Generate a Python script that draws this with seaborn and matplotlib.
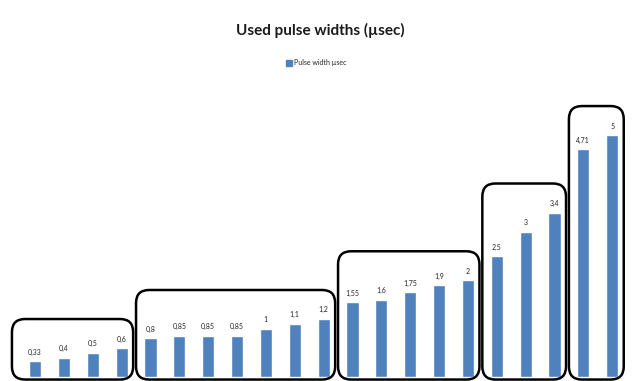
import matplotlib
matplotlib.use("Agg")
import matplotlib.pyplot as plt
import seaborn as sns
import pandas as pd
from matplotlib.patches import FancyBboxPatch, Patch

# pulse widths (usec), grouped as in the original figure
group1 = [0.33, 0.4, 0.5, 0.6]
group2 = [0.8, 0.85, 0.85, 0.85, 1.0, 1.1, 1.2]
group3 = [1.55, 1.6, 1.75, 1.9, 2.0]
group4 = [2.5, 3.0, 3.4]
group5 = [4.71, 5.0]
groups = [group1, group2, group3, group4, group5]

title = "Used pulse widths (\u00b5sec)"
series_name = "Pulse width \u00b5sec"
bar_color = "#4F81BD"

values = [v for g in groups for v in g]
df = pd.DataFrame({"idx": range(len(values)), "width": values})

sns.set_style("white")
plt.rcParams["font.family"] = ["Lato", "DejaVu Sans"]

fig = plt.figure(figsize=(6.32, 3.81), dpi=100)
ax = fig.add_axes([0.0326, 0.0, 0.9589, 0.8995])

sns.barplot(data=df, x="idx", y="width", color=bar_color, width=0.42,
            saturation=1, ax=ax)

ax.bar_label(ax.containers[0], labels=[f"{v:g}".replace(".", ",") for v in values],
             fontsize=5, padding=4, color="#222222")

ax.set_xlim(-0.5, len(values) - 0.5)
ax.set_ylim(-0.08, 7.0)
ax.set_axis_off()

# rounded frames around each group
start = 0
for g in groups:
    end = start + len(g) - 1
    left = start - 0.5 - (0.3 if start == 0 else 0)
    right = end + 0.4
    top = max(g) + 0.6
    box = FancyBboxPatch((left, -0.05), right - left, top + 0.05,
                         boxstyle="round,pad=0,rounding_size=0.45",
                         mutation_aspect=0.6, fill=False, ec="black",
                         lw=1.8, clip_on=False)
    ax.add_patch(box)
    start = end + 1

fig.text(0.507, 0.92, title, ha="center", va="center", fontsize=11,
         fontweight="bold", color="#1a1a1a")
fig.legend(handles=[Patch(color=bar_color, label=series_name)],
           loc="center", bbox_to_anchor=(0.5, 0.835), frameon=False,
           fontsize=5, handlelength=0.8, handleheight=0.8, handletextpad=0.3)

fig.savefig("out.png", dpi=100)
